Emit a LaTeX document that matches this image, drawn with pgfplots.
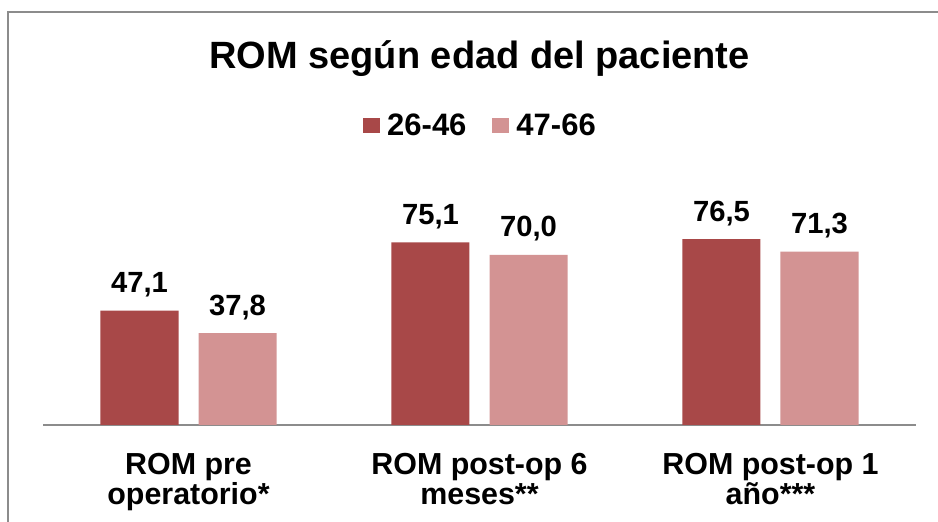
\documentclass[border=0pt]{standalone}
\usepackage{fontspec}
\setmainfont{Liberation Sans}
\usepackage{pgfplots}
\pgfplotsset{compat=1.18}
\definecolor{darkred}{RGB}{168,72,72}
\definecolor{lightred}{RGB}{211,147,147}
\definecolor{framegray}{RGB}{140,140,140}
\begin{document}
\begin{tikzpicture}
\path[use as bounding box] (0,0) rectangle (469pt,261pt);
\draw[framegray, line width=1pt] (4pt,0) -- (4pt,255pt) -- (469pt,255pt);
\begin{axis}[
  at={(21.5pt,48.5pt)}, anchor=south west,
  scale only axis, width=436.5pt, height=121.5pt,
  ymin=0, ymax=100, xmin=-0.5, xmax=2.5,
  axis y line=none, axis x line*=bottom,
  axis line style={framegray, line width=1pt, -},
  xtick=data, major tick length=0pt,
  xticklabels={{ROM pre\\operatorio*},{ROM post-op 6\\meses**},{ROM post-op 1\\año***}},
  xticklabel style={font=\fontsize{15.2}{15}\selectfont\bfseries, align=center, anchor=north, inner sep=0pt, yshift=-14pt},
  ybar=10pt, bar width=39pt,
  nodes near coords={\pgfmathprintnumber[assume math mode=true,fixed,fixed zerofill,precision=1,use comma]{\pgfplotspointmeta}},
  every node near coord/.append style={font=\fontsize{14.6}{16}\selectfont\bfseries, anchor=base, inner sep=0pt, yshift=9pt},
  legend columns=2,
  legend style={draw=none, fill=none, at={(0.5,1)}, anchor=south, yshift=21.5pt, inner sep=0pt,
    font=\fontsize{15.5}{16}\selectfont\bfseries,
    nodes={inner sep=0pt},
    /tikz/every even column/.append style={column sep=13pt}},
  legend image code/.code={\fill[#1, draw=none] (0pt,-3.5pt) rectangle (8.5pt,4pt);},
  clip=false,
]
\addplot[fill=darkred, draw=none] coordinates {(0,47.1) (1,75.1) (2,76.5)};
\addplot[fill=lightred, draw=none] coordinates {(0,37.8) (1,70.0) (2,71.3)};
\legend{\hspace{3.5pt}26-46,\hspace{3.5pt}47-66}
\node[anchor=base, font=\fontsize{19}{21}\selectfont\bfseries, yshift=56.5pt] at (rel axis cs:0.5,1) {ROM según edad del paciente};
\end{axis}
\end{tikzpicture}
\end{document}
